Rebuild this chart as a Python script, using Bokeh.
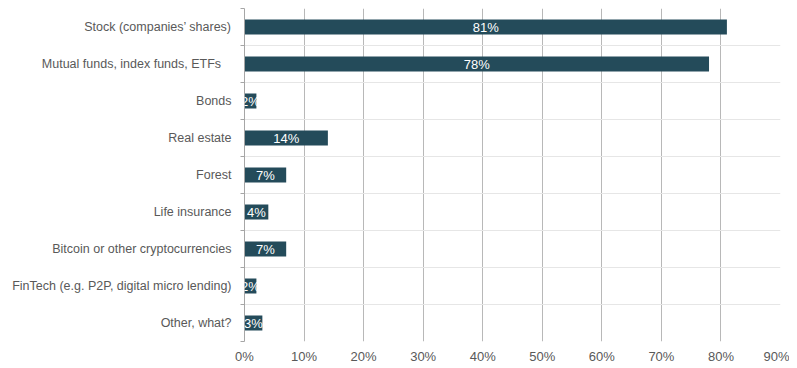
from bokeh.plotting import figure
from bokeh.models import ColumnDataSource, FixedTicker, NumeralTickFormatter, Range1d, LabelSet
from bokeh.core.properties import value
from bokeh.embed import file_html
from bokeh.resources import INLINE

categories = [
    "Stock (companies\u2019 shares)",
    "Mutual funds, index funds, ETFs   ",
    "Bonds",
    "Real estate",
    "Forest",
    "Life insurance",
    "Bitcoin or other cryptocurrencies",
    "FinTech (e.g. P2P, digital micro lending)",
    "Other, what?",
]
values = [0.81, 0.78, 0.02, 0.14, 0.07, 0.04, 0.07, 0.02, 0.03]
x_ticks = [0, 0.1, 0.2, 0.3, 0.4, 0.5, 0.6, 0.7, 0.8, 0.9]

n = len(categories)
centers = [i + 0.5 for i in range(n)]
bounds = [float(i) for i in range(n + 1)]
labels = ["{:d}%".format(round(v * 100)) for v in values]

src = ColumnDataSource(dict(y=centers, v=values, half=[v / 2 for v in values], lab=labels))

p = figure(width=789, height=366, output_backend="svg", toolbar_location=None,
           x_range=Range1d(0, 0.9), y_range=Range1d(n, 0),
           min_border_left=244, min_border_right=9, min_border_top=8, min_border_bottom=23)
p.outline_line_color = None
p.background_fill_color = "white"

p.hbar(y="y", left=0, right="v", height=0.4, source=src, color="#244b5a", line_color=None)

lbl = LabelSet(x="half", y="y", text="lab", source=src, text_align="center", text_baseline="middle",
               text_color="white", text_font=value("Liberation Sans"), text_font_size="13px")
p.add_layout(lbl)

# x axis
p.xaxis.ticker = FixedTicker(ticks=x_ticks)
p.xaxis.formatter = NumeralTickFormatter(format="0%")
p.xaxis.axis_line_color = None
p.xaxis.major_tick_line_color = None
p.xaxis.minor_tick_line_color = None
p.xaxis.major_tick_out = 0
p.xaxis.major_label_standoff = 7
p.xaxis.major_label_text_font = "Liberation Sans"
p.xaxis.major_label_text_font_size = "13px"
p.xaxis.major_label_text_color = "#595959"
p.xgrid.grid_line_color = "#b8b8b8"

# y axis
p.yaxis.ticker = FixedTicker(ticks=centers, minor_ticks=bounds)
p.yaxis.major_label_overrides = {c: t for c, t in zip(centers, categories)}
p.yaxis.axis_line_color = "#a6a6a6"
p.yaxis.major_tick_line_color = None
p.yaxis.major_tick_out = 0
p.yaxis.major_tick_in = 0
p.yaxis.minor_tick_line_color = "#a6a6a6"
p.yaxis.minor_tick_out = 4
p.yaxis.minor_tick_in = 0
p.yaxis.major_label_standoff = 9
p.yaxis.major_label_text_font = "Liberation Sans"
p.yaxis.major_label_text_font_size = "12.5px"
p.yaxis.major_label_text_color = "#595959"
p.ygrid.grid_line_color = None
p.ygrid.minor_grid_line_color = "#e6e6e6"

open("out.html", "w").write(file_html(p, INLINE))
